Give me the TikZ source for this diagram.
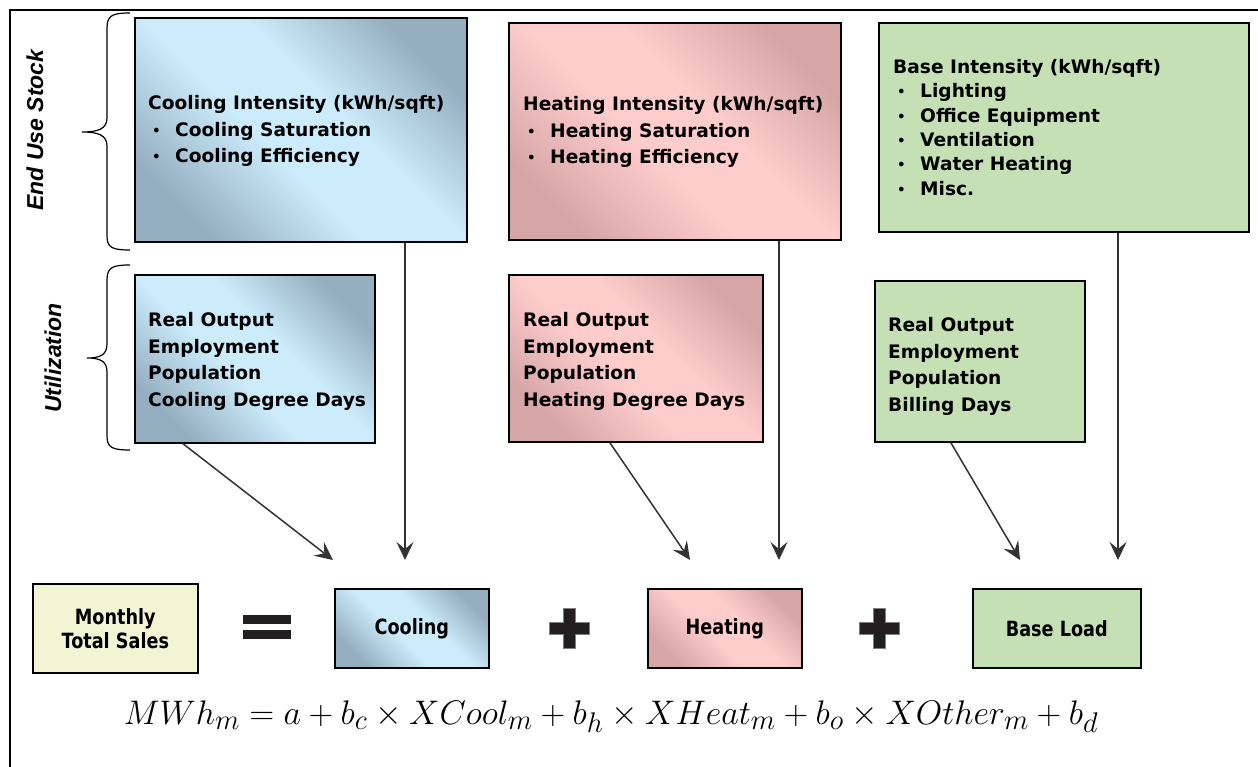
\documentclass[tikz,border=0pt]{standalone}
\usepackage{fontspec}
\setmainfont{DejaVu Sans}
\newfontfamily\boxfont{DejaVu Sans}
\newfontfamily\condfont[FakeStretch=0.84]{DejaVu Sans}
\newfontfamily\sidefont{Liberation Sans}
\usetikzlibrary{arrows.meta}
\definecolor{clight}{RGB}{204,236,252}
\definecolor{cdark}{RGB}{150,175,192}
\definecolor{plight}{RGB}{255,204,204}
\definecolor{pdark}{RGB}{214,166,167}
\definecolor{gfill}{RGB}{197,224,180}
\definecolor{yfill}{RGB}{241,245,212}
\definecolor{arrowgray}{RGB}{50,50,50}
\definecolor{signgray}{RGB}{35,31,32}
\pgfdeclareverticalshading{coolshade}{100bp}{color(0bp)=(cdark); color(25bp)=(cdark); color(44bp)=(clight); color(57bp)=(clight); color(75bp)=(cdark); color(100bp)=(cdark)}
\pgfdeclareverticalshading{heatshade}{100bp}{color(0bp)=(pdark); color(25bp)=(pdark); color(44bp)=(plight); color(57bp)=(plight); color(75bp)=(pdark); color(100bp)=(pdark)}
\newcommand{\bul}{\makebox[27pt][l]{\hspace{4pt}\raisebox{1pt}{\scalebox{0.72}{\textbullet}}}}
\tikzset{
  box/.style={draw=black, line width=1.6pt, inner sep=0pt, anchor=north west},
  coolbox/.style={box, shading=coolshade, shading angle=-45},
  heatbox/.style={box, shading=heatshade, shading angle=-45},
  basebox/.style={box, fill=gfill},
  salesbox/.style={box, fill=yfill},
  txt/.style={anchor=north west, inner sep=0pt, align=left, font=\boxfont\bfseries\fontsize{18.6}{26.8}\selectfont},
  basetxt/.style={txt, font=\boxfont\bfseries\fontsize{18.6}{24.4}\selectfont},
  sumtxt/.style={font=\condfont\bfseries\fontsize{21}{24}\selectfont, align=center},
  side/.style={rotate=90, inner sep=0pt, font=\sidefont\bfseries\itshape\fontsize{23}{23}\selectfont},
  arr/.style={draw=arrowgray, line width=1.5pt, -{Stealth[length=18pt, width=17pt, inset=7pt]}},
  brace/.style={draw=black, line width=1.2pt},
  sign/.style={fill=signgray, draw=gray, line width=0.5pt},
}
\begin{document}
\begin{tikzpicture}[x=1pt, y=-1pt]
\useasboundingbox (0,0) rectangle (1258,767);
% frame
\draw[line width=2.5pt] (10,767) -- (10,10) -- (1258,10);
% side labels and braces
\node[side] (eus) at (35,130) {End Use Stock};
\node[side] (util) at (53,358) {Utilization};
\draw[brace] (130,13) .. controls (113,13) and (107,15) .. (107,28) -- (107,118)
  .. controls (107,129) and (98,132) .. (82,132)
  .. controls (98,132) and (107,135) .. (107,146) -- (107,236)
  .. controls (107,248) and (113,250) .. (130,250);
\draw[brace] (130,265) .. controls (113,265) and (107,267) .. (107,280) -- (107,344)
  .. controls (107,355) and (100,358) .. (87,358)
  .. controls (100,358) and (107,361) .. (107,372) -- (107,436)
  .. controls (107,448) and (113,450) .. (130,450);
% top boxes
\node[coolbox, minimum width=332pt, minimum height=224pt] (ctop) at (134,17) {};
\node[heatbox, minimum width=332pt, minimum height=217pt] (htop) at (508,22) {};
\node[basebox, minimum width=370pt, minimum height=209pt] (btop) at (878,22) {};
\node[coolbox, minimum width=240pt, minimum height=168pt] (cutil) at (134,274) {};
\node[heatbox, minimum width=254pt, minimum height=167pt] (hutil) at (508,274) {};
\node[basebox, minimum width=210pt, minimum height=161pt] (butil) at (874,280) {};
% texts
\node[txt] (ctoptxt) at (148,95) {Cooling Intensity (kWh/sqft)\\\bul Cooling Saturation\\\bul Cooling Efficiency};
\node[txt] (htoptxt) at (523,96) {Heating Intensity (kWh/sqft)\\\bul Heating Saturation\\\bul Heating Efficiency};
\node[basetxt] (btoptxt) at (893,59) {Base Intensity (kWh/sqft)\\\bul Lighting\\\bul Office Equipment\\\bul Ventilation\\\bul Water Heating\\\bul Misc.};
\node[txt] (cutiltxt) at (148,312) {Real Output\\Employment\\Population\\Cooling Degree Days};
\node[txt] (hutiltxt) at (523,312) {Real Output\\Employment\\Population\\Heating Degree Days};
\node[txt] (butiltxt) at (888,317) {Real Output\\Employment\\Population\\Billing Days};
% bottom row
\node[salesbox, minimum width=165pt, minimum height=89pt, sumtxt] (sales) at (32,583) {Monthly\\Total Sales};
\node[coolbox, minimum width=154pt, minimum height=79pt, sumtxt] (cool) at (334,588) {Cooling};
\node[heatbox, minimum width=154pt, minimum height=79pt, sumtxt] (heat) at (647,588) {Heating};
\node[basebox, minimum width=168pt, minimum height=79pt, sumtxt] (base) at (972,588) {Base Load};
% signs
\fill[signgray] (243,615) rectangle (291,624);
\fill[signgray] (243,630) rectangle (291,639);
\path[sign] (563,608) -- (575,608) -- (575,622) -- (589,622) -- (589,634) -- (575,634) -- (575,648) -- (563,648) -- (563,634) -- (549,634) -- (549,622) -- (563,622) -- cycle;
\path[sign] (873,608) -- (885,608) -- (885,622) -- (899,622) -- (899,634) -- (885,634) -- (885,648) -- (873,648) -- (873,634) -- (859,634) -- (859,622) -- (873,622) -- cycle;
% arrows
\coordinate (e1) at (333,560);
\coordinate (e2) at (405,560);
\coordinate (e3) at (690,560);
\coordinate (e4) at (779,560);
\coordinate (e5) at (1020,560);
\coordinate (e6) at (1118,560);
\draw[arr] ([xshift=-72pt]cutil.south) -- (e1);
\draw[arr] (ctop.south -| e2) -- (e2);
\draw[arr] ([xshift=-26pt]hutil.south) -- (e3);
\draw[arr] (htop.south -| e4) -- (e4);
\draw[arr] ([xshift=-29pt]butil.south) -- (e5);
\draw[arr] (btop.south -| e6) -- (e6);
% equation
\node[inner sep=0pt, font=\fontsize{30}{30}\selectfont] (eq) at (611,717) {\scalebox{1.37}{$MWh_m = a + b_c \times XCool_m + b_h \times XHeat_m + b_o \times XOther_m + b_d$}};
\end{tikzpicture}
\end{document}
